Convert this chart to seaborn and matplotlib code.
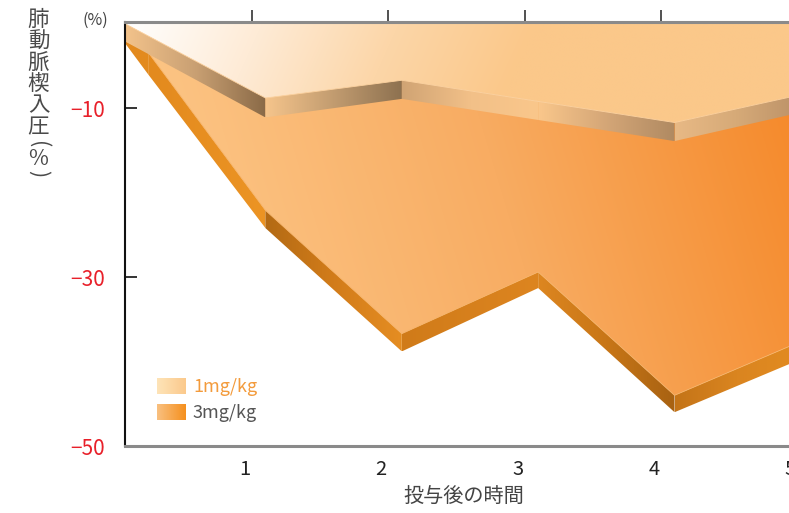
import numpy as np
import matplotlib
matplotlib.use("Agg")
import matplotlib.pyplot as plt
from matplotlib.colors import to_rgb
from matplotlib.patches import Polygon
from matplotlib.transforms import ScaledTranslation
import seaborn as sns

# Change in pulmonary capillary wedge pressure (%) by hours after dosing
hours_1mg = [0.07, 1.1, 2.1, 3.1, 4.1, 5.0]
pcwp_1mg = [0.0, -8.8, -6.7, -9.2, -11.7, -8.5]
hours_3mg = [0.07, 0.24, 1.1, 2.1, 3.1, 4.1, 5.0]
pcwp_3mg = [-2.0, -3.4, -22.1, -36.7, -29.4, -44.0, -37.8]

series_labels = ["1mg/kg", "3mg/kg"]
x_ticks = [1, 2, 3, 4, 5]
x_tick_labels = ["1", "2", "3", "4", "5"]
y_ticks = [-10, -30, -50]
y_tick_labels = ["−10", "−30", "−50"]
x_label = "投与後の時間"
y_label = "肺動脈楔入圧(%)"
unit_label = "(%)"

# ---- styling -------------------------------------------------------------
sns.set_theme(style="white")
plt.rcParams["font.family"] = ["Noto Sans CJK JP", "DejaVu Sans"]

X_LIM = (0.07, 5.02)
Y_LIM = (-50, 0.2)
# thickness of the extruded edge under each vertex, in % units
slab_1mg = [2.1, 2.3, 2.2, 2.2, 2.2, 2.1]
slab_3mg = [0.3, 2.6, 2.1, 2.1, 1.9, 2.0, 2.1]

face_1mg = ["#FFFFFF", "#FEEBD6", "#FCD6A8", "#FBC88A"]
face_3mg = ["#FCC585", "#F8AC62", "#F5892A"]
edge_1mg = [
    ["#F3C38B", "#C9A073", "#8A6A47"],
    ["#F6C58C", "#C29C70", "#8D7150"],
    ["#D0A474", "#F2C088", "#FAC78B"],
    ["#FAC78B", "#D4A677", "#B08A62"],
    ["#E8B985", "#D6AA78", "#BC9268"],
]
edge_3mg = [
    ["#E38A1E", "#E38A1E"],
    ["#E38A1E", "#EC9424"],
    ["#B36A14", "#D27C1A", "#E58D22"],
    ["#D07B19", "#DD8520"],
    ["#DD8620", "#C87617", "#A86212"],
    ["#C47418", "#DA8520", "#E28B20"],
]
legend_swatches = [["#FEE4B8", "#FBC98C"], ["#F9C080", "#F5901E"]]
legend_text_colors = ["#F39B3C", "#555555"]


def ramp(stops, s):
    """Piecewise-linear colour ramp evaluated at s (array in 0..1)."""
    cols = np.array([to_rgb(c) for c in stops])
    pos = np.linspace(0, 1, len(cols))
    out = np.empty(s.shape + (3,))
    for k in range(3):
        out[..., k] = np.interp(s, pos, cols[:, k])
    return out


fig = plt.figure(figsize=(7.89, 5.13), dpi=100)
ax = fig.add_axes([125 / 789, 67 / 513, 675 / 789, 424 / 513])
ax.set_xlim(*X_LIM)
ax.set_ylim(*Y_LIM)
ax.set_autoscale_on(False)

# axes-fraction grid used by the large face gradients
ny, nx = 300, 500
U, W = np.meshgrid(np.linspace(0, 1, nx), np.linspace(1, 0, ny))
px_right = U * 675
px_down = (1 - W) * 424


def gradient_face(hours, values, stops, s, z):
    top = Y_LIM[1]
    verts = [(hours[0], top), (hours[-1], top)] + list(zip(hours[::-1], values[::-1]))
    poly = Polygon(verts, closed=True, fc="none", lw=0, transform=ax.transData)
    ax.add_patch(poly)
    im = ax.imshow(ramp(stops, np.clip(s, 0, 1)), extent=(0, 1, 0, 1),
                   transform=ax.transAxes, aspect="auto",
                   interpolation="bilinear", zorder=z)
    im.set_clip_path(poly)


def gradient_edges(hours, values, depth, colour_sets, z):
    for i in range(len(hours) - 1):
        t0, t1 = hours[i], hours[i + 1]
        v0, v1 = values[i], values[i + 1]
        b0, b1 = v0 - depth[i], v1 - depth[i + 1]
        verts = [(t0, v0), (t1, v1), (t1, b1), (t0, b0)]
        poly = Polygon(verts, closed=True, fc="none", lw=0)
        ax.add_patch(poly)
        strip = ramp(colour_sets[i], np.linspace(0, 1, 256))[None, :, :]
        lo, hi = min(b0, b1), max(v0, v1)
        im = ax.imshow(strip, extent=(t0, t1, lo, hi), aspect="auto",
                       interpolation="bilinear", zorder=z)
        im.set_clip_path(poly)


# 3 mg/kg layer sits behind the 1 mg/kg layer
gradient_face(hours_3mg, pcwp_3mg, face_3mg, (px_right - 0.3 * px_down) / 650, 1)
gradient_edges(hours_3mg, pcwp_3mg, slab_3mg, edge_3mg, 2)
gradient_face(hours_1mg, pcwp_1mg, face_1mg, (px_right + 0.45 * px_down) / 410, 3)
gradient_edges(hours_1mg, pcwp_1mg, slab_1mg, edge_1mg, 4)

# fine seam along the top of each extruded edge
sns.lineplot(x=hours_3mg, y=pcwp_3mg, ax=ax, color="#F7B46A", lw=0.6, zorder=2.5)
sns.lineplot(x=hours_1mg, y=pcwp_1mg, ax=ax, color="#FBD3A3", lw=0.6, zorder=4.5)

ax.set_xlim(*X_LIM)
ax.set_ylim(*Y_LIM)

# ---- axes ----------------------------------------------------------------
for name, sp in ax.spines.items():
    sp.set_zorder(10)
ax.spines["right"].set_visible(False)
ax.spines["left"].set_color("#111111")
ax.spines["left"].set_linewidth(1.5)
for name in ("top", "bottom"):
    ax.spines[name].set_color("#8A8A8A")
    ax.spines[name].set_linewidth(2.2)

ax.set_yticks(y_ticks)
ax.set_yticklabels(y_tick_labels)
ax.tick_params(axis="y", left=True, right=False, direction="in", length=8.6,
               width=1.2, color="#111111", labelsize=15, labelcolor="#E8202A",
               pad=14.4)

ax.set_xticks(x_ticks)
ax.set_xticklabels(x_tick_labels)
ax.tick_params(axis="x", bottom=False, top=True, labelbottom=True, labeltop=False,
               direction="out", length=8.6, width=1.2, color="#333333",
               labelsize=14.5, labelcolor="#222222", pad=1.0)
shift = ScaledTranslation(-7 / 100, 0, fig.dpi_scale_trans)
for lab in ax.get_xticklabels():
    lab.set_transform(lab.get_transform() + shift)

ax.set_xlabel("")
ax.set_ylabel("")
fig.text(464 / 789, 1 - 497 / 513, x_label, ha="center", va="center",
         fontsize=14.5, color="#444444")
fig.text(95 / 789, 1 - 20 / 513, unit_label, ha="center", va="center",
         fontsize=11.5, color="#444444")

# vertical (tategaki) axis title
y_px = 20.0
prev_half = None
for ch in y_label:
    half = 6.5 if ch in "()" else (8.0 if ch == "%" else 10.7)
    if prev_half is not None:
        y_px += prev_half + half
    fig.text(38.5 / 789, 1 - y_px / 513, ch, ha="center", va="center",
             fontsize=15.5, color="#4A4A4A",
             rotation=-90 if ch in "()" else 0)
    prev_half = half

# legend with gradient swatches
swatch_rows = [(0.1226, 0.158), (0.0613, 0.0967)]
for (w0, w1), stops, label, tc in zip(swatch_rows, legend_swatches,
                                      series_labels, legend_text_colors):
    sw = ramp(stops, np.linspace(0, 1, 64))[None, :, :]
    ax.imshow(sw, extent=(0.0474, 0.0889, w0, w1), transform=ax.transAxes,
              aspect="auto", interpolation="bilinear", zorder=6)
    ax.text(0.1007, (w0 + w1) / 2, label, transform=ax.transAxes, ha="left",
            va="center", fontsize=13, color=tc, zorder=6)

ax.set_xlim(*X_LIM)
ax.set_ylim(*Y_LIM)
fig.savefig("out.png", dpi=100)
